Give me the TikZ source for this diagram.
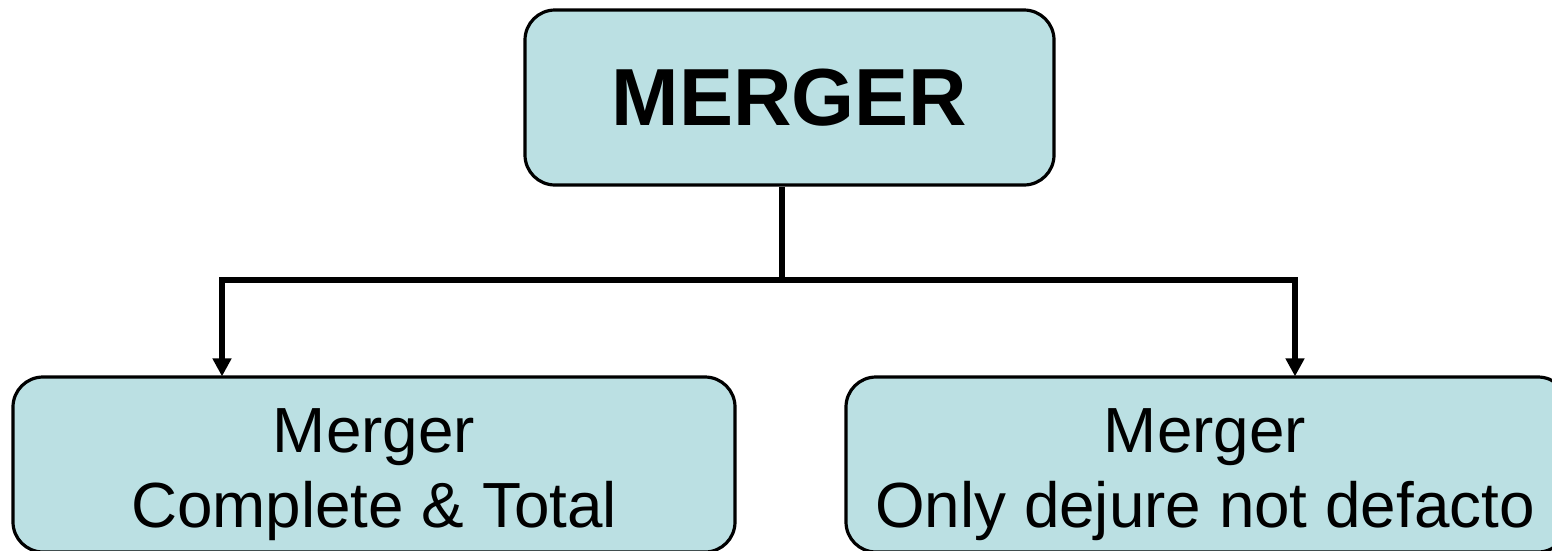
\documentclass[tikz,border=0pt]{standalone}
\usepackage{fontspec}
\setmainfont{Liberation Sans}
\usetikzlibrary{arrows.meta}
\definecolor{boxfill}{HTML}{BBE0E3}
\tikzset{
  box/.style={draw=black, line width=3.2pt, fill=boxfill, rounded corners=30pt, inner sep=0pt},
  conn/.style={draw=black, line width=5.5pt},
  arr/.style={conn, -{Triangle[width=18pt,length=18pt]}, shorten >=-1pt},
  lbl/.style={align=center, font=\fontsize{63.8}{75}\selectfont, inner sep=0pt},
}
\begin{document}
\begin{tikzpicture}[x=1pt,y=-1pt]
\useasboundingbox (0,0) rectangle (1552,550);
\node[box, minimum width=529pt, minimum height=175pt, font=\fontsize{81}{90}\selectfont\bfseries] (top) at (789.5,97.5) {MERGER};
\node[box, minimum width=722pt, minimum height=175pt] (left) at (374,464.5) {};
\node[box, minimum width=722pt, minimum height=175pt] (right) at (1207,464.5) {};
\node[lbl] (lt) at (374,475) {Merger\\Complete \& Total};
\node[lbl] (rt) at (1205,475) {Merger\\Only dejure not defacto};
\coordinate (jl) at (222,280);
\coordinate (jr) at (1295,280);
\coordinate (jm) at (782,280);
\draw[conn] (top.south -| jm) -- (jm);
\draw[arr] (jm) -| (jl |- left.north);
\draw[arr] (jm) -| (jr |- right.north);
\end{tikzpicture}
\end{document}
